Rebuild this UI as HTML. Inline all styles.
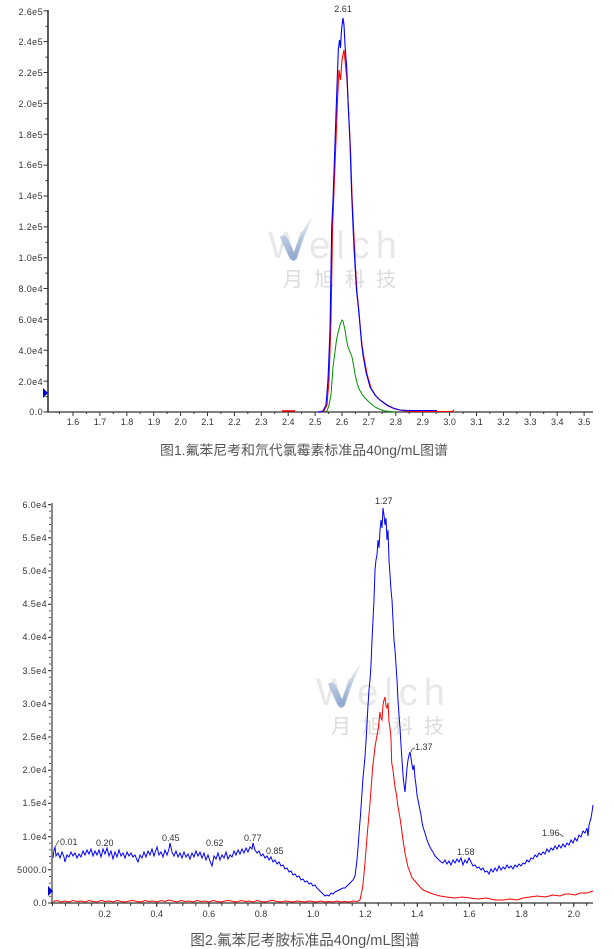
<!DOCTYPE html>
<html><head><meta charset="utf-8">
<style>
html,body{margin:0;padding:0;background:#fff;}
svg{display:block;}
.t{font-family:"Liberation Sans",Arial,sans-serif;font-size:9px;fill:#333;}
.yl{text-anchor:end;letter-spacing:0.4px;}
.xl{text-anchor:middle;}
.cap{font-family:"Liberation Sans","Noto Sans CJK SC",sans-serif;fill:#555;text-anchor:middle;}
.wm{font-family:"Liberation Sans",sans-serif;font-size:38px;fill:#e8e8e8;letter-spacing:6px;}
.wc{font-family:"Noto Sans CJK SC","WenQuanYi Zen Hei",sans-serif;font-size:20px;fill:#dcdcdc;letter-spacing:11px;}
</style></head>
<body>
<svg width="614" height="949" viewBox="0 0 614 949" xmlns="http://www.w3.org/2000/svg">
<defs>
<linearGradient id="vg" x1="0" y1="0" x2="0" y2="1">
<stop offset="0" stop-color="#e6edf7"/>
<stop offset="1" stop-color="#6a8cc0"/>
</linearGradient>
</defs>

<!-- ================= CHART 1 ================= -->
<g>
<text class="wm" x="268" y="258">Welch</text>
<path d="M280,237 Q284,233 288,239 L294,252 Q301,230 314,215 Q305,232 297,258 Q293,264 289,257 Z" fill="url(#vg)" opacity="0.75"/>
<text class="wc" x="283" y="286">月旭科技</text>
</g>

<line x1="48" y1="10" x2="48" y2="412.5" stroke="#333" stroke-width="1.6"/>
<line x1="47" y1="412" x2="593" y2="412" stroke="#333" stroke-width="1.2"/>
<line x1="45.5" y1="412.5" x2="45.5" y2="9" stroke="#333" stroke-width="4" stroke-dasharray="1 29.86"/>
<line x1="46.5" y1="397.07" x2="46.5" y2="9" stroke="#333" stroke-width="2" stroke-dasharray="1 29.86"/>
<line x1="72.5" y1="414" x2="594" y2="414" stroke="#333" stroke-width="4" stroke-dasharray="1 25.9"/>
<line x1="59" y1="413" x2="594" y2="413" stroke="#333" stroke-width="2" stroke-dasharray="1 25.9"/>

<g class="t yl">
<text x="43" y="15">2.6e5</text>
<text x="43" y="45">2.4e5</text>
<text x="43" y="76">2.2e5</text>
<text x="43" y="107">2.0e5</text>
<text x="43" y="138">1.8e5</text>
<text x="43" y="168">1.6e5</text>
<text x="43" y="199">1.4e5</text>
<text x="43" y="230">1.2e5</text>
<text x="43" y="261">1.0e5</text>
<text x="43" y="292">8.0e4</text>
<text x="43" y="323">6.0e4</text>
<text x="43" y="354">4.0e4</text>
<text x="43" y="385">2.0e4</text>
<text x="43" y="415">0.0</text>
</g>
<g class="t xl">
<text x="73" y="425">1.6</text>
<text x="100" y="425">1.7</text>
<text x="127" y="425">1.8</text>
<text x="154" y="425">1.9</text>
<text x="180.6" y="425">2.0</text>
<text x="207.5" y="425">2.1</text>
<text x="234.4" y="425">2.2</text>
<text x="261.3" y="425">2.3</text>
<text x="288.2" y="425">2.4</text>
<text x="315.1" y="425">2.5</text>
<text x="342" y="425">2.6</text>
<text x="368.9" y="425">2.7</text>
<text x="395.8" y="425">2.8</text>
<text x="422.7" y="425">2.9</text>
<text x="449.6" y="425">3.0</text>
<text x="476.5" y="425">3.1</text>
<text x="503.4" y="425">3.2</text>
<text x="530.3" y="425">3.3</text>
<text x="557.2" y="425">3.4</text>
<text x="584.1" y="425">3.5</text>
</g>
<text class="t xl" x="343" y="12">2.61</text>

<polygon points="43,388 48,393 43,398" fill="#0000cc"/>

<line x1="282" y1="411" x2="295" y2="411" stroke="#e00" stroke-width="1.6"/>
<polyline fill="none" stroke="#009000" stroke-width="1" points="325,412 327,411 329,405 331,395 333,367 335,352 336.5,340 338,333 340,325 342,320 343,321 345,330 346.5,340 348,347 350,352 352,357 353.5,365 355,374 357,383 359,389 362,394 365,398 370,403 375,407 380,409.5 385,411 395,412"/>
<polyline fill="none" stroke="#ff0000" stroke-width="1.1" points="320,412 324,411 327,405 329,380 331,320 332.5,230 334,190 336,140 337.5,100 339,70 340.5,80 342,60 344,50 345.5,65 347,80 348.5,110 350.5,150 352,195 354,238 355.5,268 357,292 359,312 360.5,330 362,345 364,358 367,374 371,388 376,396 381,401 388,406 395,409 402,410.5 412,411.5 420,411.5 452,411.5 454,410"/>
<polyline fill="none" stroke="#0000ff" stroke-width="1.1" points="318,412 323,411 326,405 328,380 330,330 331.7,227 333,200 335,143 336.5,100 338.3,50 339.5,40 340.5,48 341.5,30 343,18 344,25 345,45 346.7,67 348,100 350,143 351.5,190 353.3,233 355,265 356.5,290 358.3,307 360,325 361.5,343 363.3,357 366,372 370,387 375,395 380,400 387,405 393,408 400,410 410,410.5 437,410.5"/>

<text class="cap" x="304" y="455" style="font-size:13.9px">图1.氟苯尼考和氘代氯霉素标准品40ng/mL图谱</text>

<!-- ================= CHART 2 ================= -->
<g transform="translate(48,447)">
<text class="wm" x="268" y="258">Welch</text>
<path d="M280,237 Q284,233 288,239 L294,252 Q301,230 314,215 Q305,232 297,258 Q293,264 289,257 Z" fill="url(#vg)" opacity="0.75"/>
<text class="wc" x="283" y="286">月旭科技</text>
</g>

<line x1="52" y1="503" x2="52" y2="904" stroke="#8a8a8a" stroke-width="2"/>
<line x1="51" y1="903" x2="593" y2="903" stroke="#333" stroke-width="1.2"/>
<line x1="49.5" y1="903.5" x2="49.5" y2="503" stroke="#333" stroke-width="3" stroke-dasharray="1 32.2"/>
<line x1="50" y1="903.5" x2="50" y2="503" stroke="#333" stroke-width="1.6" stroke-dasharray="1 5.64"/>
<line x1="104.1" y1="905" x2="594" y2="905" stroke="#333" stroke-width="4" stroke-dasharray="1 51.12"/>
<line x1="52" y1="904.5" x2="594" y2="904.5" stroke="#333" stroke-width="3" stroke-dasharray="1 12.03"/>

<g class="t yl">
<text x="47" y="508">6.0e4</text>
<text x="47" y="541">5.5e4</text>
<text x="47" y="574">5.0e4</text>
<text x="47" y="607">4.5e4</text>
<text x="47" y="640">4.0e4</text>
<text x="47" y="674">3.5e4</text>
<text x="47" y="707">3.0e4</text>
<text x="47" y="740">2.5e4</text>
<text x="47" y="773">2.0e4</text>
<text x="47" y="806">1.5e4</text>
<text x="47" y="840">1.0e4</text>
<text x="47" y="873">5000.0</text>
<text x="47" y="906">0.0</text>
</g>
<g class="t xl">
<text x="104.6" y="917">0.2</text>
<text x="156.7" y="917">0.4</text>
<text x="208.9" y="917">0.6</text>
<text x="261" y="917">0.8</text>
<text x="313.1" y="917">1.0</text>
<text x="365.2" y="917">1.2</text>
<text x="417.3" y="917">1.4</text>
<text x="469.4" y="917">1.6</text>
<text x="521.6" y="917">1.8</text>
<text x="573.7" y="917">2.0</text>
</g>
<g class="t">
<text x="60" y="845">0.01</text>
<text x="96" y="846">0.20</text>
<text x="162" y="841">0.45</text>
<text x="206" y="846">0.62</text>
<text x="244" y="841">0.77</text>
<text x="266" y="854">0.85</text>
<text x="375" y="504">1.27</text>
<text x="415" y="750">1.37</text>
<text x="457" y="855">1.58</text>
<text x="542" y="836">1.96</text>
</g>
<path d="M55,847 L59,840" stroke="#333" stroke-width="0.7" fill="none"/>
<path d="M411,752 Q412,748 415,748" stroke="#333" stroke-width="0.7" fill="none"/>
<path d="M559,834 Q561,834 563,837" stroke="#333" stroke-width="0.7" fill="none"/>

<polygon points="48,886 53,891 48,896" fill="#0000cc"/>

<polyline fill="none" stroke="#ff0000" stroke-width="1" points="53,901.5 57,900.5 61,902 65,901 69,902 73,900.5 77,901.5 81,901 85,902 89,900.5 93,901.5 97,902 101,900.5 105,901.5 109,901 113,902 117,900.5 121,901.5 125,902 129,901 133,900.5 137,901.5 141,902 145,900.5 149,901.5 153,901 157,902 161,900.5 165,901.5 169,900 173,901 177,902 181,900.5 185,901.5 189,901 193,902 197,900.5 201,901.5 205,901 209,902 213,900.5 217,901.5 221,902 225,901 229,900.5 233,901.5 237,902 241,900.5 245,901.5 249,901 253,902 257,900.5 261,901.5 265,902 269,901 273,900.5 277,901.5 281,902 285,901 289,901.5 293,902 297,901 301,901.5 305,902 309,901 313,901.5 317,902 321,901 325,902 329,901.5 333,902 337,901 341,902 345,901.5 349,902 353,901 357,901.5 360,900 362.7,887 365,863 367,837 370,803 372.7,767 375,747 376.5,738 378,730 379,722 380,712 381,718 382,720 383,705 384,700 385,697 386,706 387,708 388,703 389,722 390,728 391,738 391.7,763 393,770 395,787 396.5,795 398,807 400,818 401.7,830 403,840 405,853 406.5,860 408,867 410,872 411.7,877 414,880 416.7,883 420,887 423,890 428,892 433,894 440,896 446.7,897 455,898 462,897 470,898 478,899 486,898 495,900 503,900 510,899 517,900 523,898 530,897 537,896 545,897 553,895 560,896 565,894 570,894 575,895 580,893 587,893 590,892 593,891"/>

<polyline fill="none" stroke="#0000ff" stroke-width="1" points="53,858 54,850 55,847 56,856 58,853 60,858 62,852 64,857 65,862 67,855 69,857 71,852 73,856 75,853 77,858 79,854 81,857 83,851 85,855 87,850 89,854 91,849 93,856 95,851 97,855 99,850 101,857 103,849 105,854 107,848 109,856 111,851 113,859 115,852 117,857 119,850 121,856 123,853 125,858 127,852 129,856 131,853 133,857 135,855 137,860 138,862 140,855 142,858 144,852 146,857 148,851 150,855 152,849 154,856 156,850 157,847 159,855 161,852 163,857 165,850 167,855 169,849 170,843 172,852 174,856 176,851 178,857 180,853 182,858 184,852 186,857 188,854 190,859 192,853 194,857 196,851 198,856 200,852 202,858 204,853 206,860 208,855 210,861 212,866 214,856 216,859 218,853 220,860 222,855 224,858 226,852 228,859 230,855 232,857 234,851 236,855 238,850 240,854 242,849 244,853 246,848 248,852 250,847 252,849 253,843 255,850 257,853 259,851 261,856 263,854 265,858 267,856 269,860 271,857 273,862 275,860 277,864 279,862 281,866 283,865 285,869 287,868 289,872 291,871 293,875 295,874 297,877 299,876 301,880 303,879 305,882 307,881 309,884 311,883 313,886 315,885 317,888 319,890 321,892 323,894 325,896 327,895 329,896 331,893 333,894 335,892 337,891 339,890 341,889 343,888 345,888 347,886 349,884 351,882 353,880 355,876 356.7,863 358,848 359.3,830 360.5,815 361.7,797 363,778 365,757 366.7,730 368,705 369,690 370,680 371,665 372,640 373,620 374,600 375,570 376,560 377,555 378,540 379,548 380,530 381,520 382,528 383,508 384,515 385,525 386,518 387,540 388,530 389,560 390,575 391,590 392,600 393,620 394,640 395,650 396,665 397,680 398,700 399,715 400,728 401,745 402,760 403,775 404,785 405,792 406,780 407,768 408,760 409,755 410,752 411,758 412,765 413,770 414,765 415,778 416,785 417,795 418,800 419,805 420,810 421,815 422,822 423,827 425,833 427,840 429,845 431,849 433,852 435,856 437,858 439,860 441,862 443,863 445,860 447,864 449,861 451,865 453,860 455,863 457,859 459,862 461,858 463,865 465,860 467,863 469,858 471,862 473,866 475,865 477,868 479,867 481,870 483,868 485,872 487,871 489,874 491,869 493,872 495,868 497,871 499,866 501,870 503,867 505,869 507,865 509,868 511,866 513,869 515,865 517,867 519,864 521,866 523,863 525,864 527,860 529,862 531,858 533,859 535,855 537,857 539,853 541,855 543,852 545,854 547,849 549,852 551,848 553,850 555,846 557,849 559,845 561,848 563,844 565,847 567,843 569,845 571,840 573,843 575,838 577,841 579,835 581,837 583,831 585,833 587,828 588,836 589,825 591,818 592,812 593,805"/>

<text class="cap" x="305" y="945" style="font-size:14.6px">图2.氟苯尼考胺标准品40ng/mL图谱</text>
</svg>
</body></html>
